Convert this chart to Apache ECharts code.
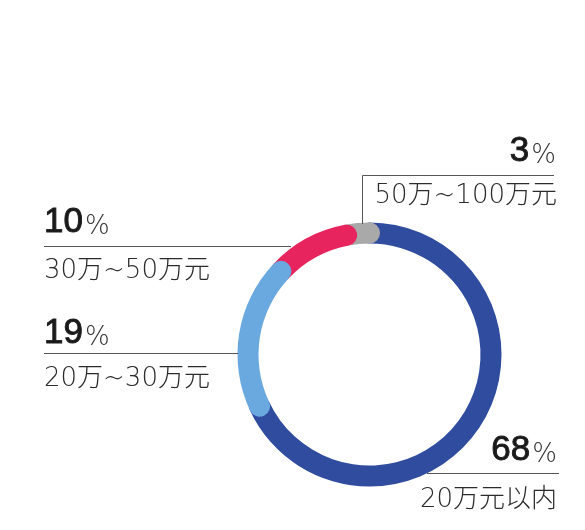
<!DOCTYPE html>
<html><head><meta charset="utf-8">
<script src="https://cdn.jsdelivr.net/npm/echarts@6/dist/echarts.min.js"></script>
<style>html,body{margin:0;padding:0;background:#fff}#c{width:585px;height:530px}</style>
</head><body><div id="c"></div>
<script>
// Data (clockwise from top)
const categories = ['20万元以内', '20万~30万元', '30万~50万元', '50万~100万元'];
const values = [68, 19, 10, 3];
const pctLabels = ['68', '19', '10', '3'];
const colors = ['#2f4c9f', '#6aa8e0', '#e8245f', '#a9a9a9'];
const layer = [2, 5, 4, 3];

const chart = echarts.init(document.getElementById('c'));
const numFont = 'Liberation Sans';
const cjkFont = '"DejaVu Sans", "Noto Sans CJK SC"';

function pctText(i, x, y, align) {
  return {
    type: 'text', z: 10,
    style: {
      x: x, y: y, align: align, verticalAlign: 'bottom',
      text: '{n|' + pctLabels[i] + '}{p|%}',
      rich: {
        n: { fontFamily: numFont, fontSize: 35, fill: '#1a1a1a', stroke: '#1a1a1a', lineWidth: 0.9, verticalAlign: 'bottom', lineHeight: 35 },
        p: { fontFamily: cjkFont, fontWeight: 200, fontSize: 26, fill: '#333', verticalAlign: 'bottom', lineHeight: 32, padding: [0, 0, 0, 2] }
      }
    }
  };
}
function catText(i, x, y, align) {
  return {
    type: 'text', z: 10,
    style: { x: x, y: y, align: align, verticalAlign: 'middle', text: categories[i],
      fontFamily: cjkFont, fontWeight: 200, fontSize: 26, fill: '#2b2b2b' }
  };
}
function line(points) {
  return { type: 'polyline', z: 10, shape: { points: points }, style: { stroke: '#555', lineWidth: 1, fill: null } };
}

chart.setOption({
  backgroundColor: '#fff',
  animation: false,
  polar: { center: [369.5, 354.5], radius: [111, 132] },
  angleAxis: { type: 'value', min: 0, max: 100, startAngle: 90, clockwise: true, show: false },
  radiusAxis: { type: 'category', data: ['total'], show: false },
  series: values.map((v, i) => ({
    type: 'bar', coordinateSystem: 'polar', stack: 'ring', roundCap: true,
    name: categories[i], data: [v], barWidth: '100%', z: layer[i],
    itemStyle: { color: colors[i] }
  })),
  graphic: [
    // 10% / 30万~50万元
    line([[44, 246.5], [291, 246.5]]),
    pctText(2, 44, 240, 'left'),
    catText(2, 44, 271, 'left'),
    // 19% / 20万~30万元
    line([[44, 353.5], [238, 353.5]]),
    pctText(1, 44, 351, 'left'),
    catText(1, 44, 379, 'left'),
    // 3% / 50万~100万元
    line([[554, 175.5], [362.5, 175.5], [362.5, 224]]),
    pctText(3, 556, 169, 'right'),
    catText(3, 557, 196, 'right'),
    // 68% / 20万元以内
    line([[427, 473.5], [559, 473.5]]),
    pctText(0, 557, 468, 'right'),
    catText(0, 557, 500, 'right')
  ]
});
</script></body></html>
